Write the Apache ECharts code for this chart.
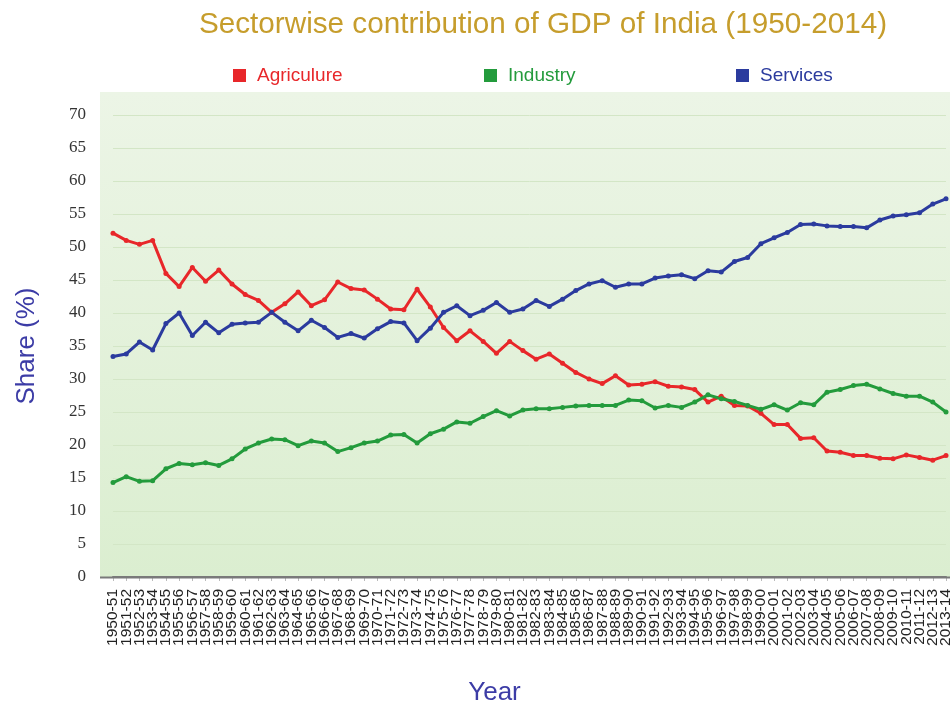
<!DOCTYPE html>
<html>
<head>
<meta charset="utf-8">
<script src="https://cdn.jsdelivr.net/npm/echarts/dist/echarts.min.js"></script>
<style>html,body{margin:0;padding:0;background:#fff;}#c{width:950px;height:706px;}</style>
</head>
<body>
<div id="c"></div>
<script>
var years = ["1950-51","1951-52","1952-53","1953-54","1954-55","1955-56","1956-57","1957-58","1958-59","1959-60",
"1960-61","1961-62","1962-63","1963-64","1964-65","1965-66","1966-67","1967-68","1968-69","1969-70",
"1970-71","1971-72","1972-73","1973-74","1974-75","1975-76","1976-77","1977-78","1978-79","1979-80",
"1980-81","1981-82","1982-83","1983-84","1984-85","1985-86","1986-87","1987-88","1988-89","1989-90",
"1990-91","1991-92","1992-93","1993-94","1994-95","1995-96","1996-97","1997-98","1998-99","1999-00",
"2000-01","2001-02","2002-03","2003-04","2004-05","2005-06","2006-07","2007-08","2008-09","2009-10",
"2010-11","2011-12","2012-13","2013-14"];

var agriculture = [52.1,51.0,50.4,51.0,46.0,44.0,46.9,44.8,46.5,44.4,
42.8,41.9,40.1,41.4,43.2,41.1,42.0,44.7,43.7,43.5,
42.1,40.6,40.5,43.6,40.9,37.8,35.8,37.3,35.7,33.9,
35.7,34.3,33.0,33.8,32.4,31.0,30.0,29.3,30.5,29.1,
29.2,29.6,28.9,28.8,28.4,26.5,27.4,26.0,25.9,24.8,
23.1,23.1,21.0,21.1,19.1,18.9,18.4,18.4,18.0,17.9,
18.5,18.1,17.7,18.4];

var industry = [14.3,15.2,14.5,14.6,16.4,17.2,17.0,17.3,16.9,17.9,
19.4,20.3,20.9,20.8,19.9,20.6,20.3,19.0,19.6,20.3,
20.6,21.5,21.6,20.3,21.7,22.4,23.5,23.3,24.3,25.2,
24.4,25.3,25.5,25.5,25.7,25.9,26.0,26.0,26.0,26.8,
26.7,25.6,26.0,25.7,26.5,27.6,27.0,26.6,26.0,25.4,
26.1,25.3,26.4,26.1,28.0,28.4,29.0,29.2,28.5,27.8,
27.4,27.4,26.5,25.0];

var services = [33.4,33.8,35.6,34.4,38.4,40.0,36.6,38.6,37.0,38.3,
38.5,38.6,40.1,38.6,37.3,38.9,37.8,36.3,36.9,36.2,
37.6,38.7,38.5,35.8,37.7,40.1,41.1,39.6,40.4,41.6,
40.1,40.6,41.9,41.0,42.1,43.4,44.4,44.9,43.9,44.4,
44.4,45.3,45.6,45.8,45.2,46.4,46.2,47.8,48.4,50.5,
51.4,52.2,53.4,53.5,53.2,53.1,53.1,52.9,54.1,54.7,
54.9,55.2,56.5,57.3];

var seriesNames = ["Agriculure","Industry","Services"];
var colors = ["#e8272a","#239b3c","#2b3b9e"];

var chart = echarts.init(document.getElementById('c'), null, {renderer:'canvas'});

function mkSeries(name, data, color){
  return {
    name: name, type: 'line', data: data,
    symbol: 'circle', symbolSize: 5, showSymbol: true,
    lineStyle: {width: 3, color: color},
    itemStyle: {color: color},
    emphasis: {disabled: true},
    animation: false
  };
}
function mkLegend(i, left){
  return {
    left: left, top: 61, orient: 'horizontal',
    itemWidth: 13, itemHeight: 13, icon: 'rect', selectedMode: false,
    data: [{name: seriesNames[i], textStyle: {color: colors[i]}}],
    textStyle: {fontSize: 19, fontFamily: 'Liberation Sans, Arial, sans-serif', padding: [0,0,0,6]}
  };
}

chart.setOption({
  animation: false,
  color: colors,
  title: {
    text: 'Sectorwise contribution of GDP of India (1950-2014)',
    left: 538, top: 5, textAlign: 'center',
    textStyle: {color: '#c69d2c', fontSize: 29.7, fontWeight: 'normal', fontFamily: 'Liberation Sans, Arial, sans-serif'}
  },
  legend: [mkLegend(0, 228), mkLegend(1, 479), mkLegend(2, 731)],
  graphic: [
    {type: 'rect', z: -10, silent: true,
     shape: {x: 100, y: 92, width: 850, height: 485},
     style: {fill: new echarts.graphic.LinearGradient(0,0,0,1,[{offset:0,color:'#ecf5e6'},{offset:1,color:'#dbeed0'}])}},
    {type: 'line', z: 10, silent: true,
     shape: {x1: 100, y1: 577.5, x2: 950, y2: 577.5},
     style: {stroke: '#7a7a7a', lineWidth: 2}}
  ],
  grid: {left: 113, right: 4, top: 115, bottom: 129, containLabel: false, outerBoundsMode: 'none'},
  xAxis: {
    type: 'category', data: years, boundaryGap: false,
    name: 'Year', nameLocation: 'middle', nameGap: 103,
    nameTextStyle: {color: '#3c3ca6', fontSize: 26, fontFamily: 'Liberation Sans, Arial, sans-serif', padding: [0,70,0,0]},
    axisLine: {show: true, lineStyle: {color: '#7a7a7a', width: 2}},
    axisTick: {show: true, length: 4, lineStyle: {color: '#bbb'}},
    axisLabel: {interval: 0, rotate: 90, fontSize: 15.5, color: '#222', margin: 12, fontFamily: 'Liberation Sans, Arial, sans-serif'},
    splitLine: {show: false}
  },
  yAxis: {
    type: 'value', min: 0, max: 70, interval: 5,
    name: 'Share (%)', nameLocation: 'middle', nameGap: 73,
    nameTextStyle: {color: '#3c3ca6', fontSize: 26, fontFamily: 'Liberation Sans, Arial, sans-serif'},
    axisLine: {show: false}, axisTick: {show: false},
    axisLabel: {fontSize: 17, color: '#333', margin: 27, fontFamily: 'Liberation Serif, Times New Roman, serif'},
    splitLine: {show: true, lineStyle: {color: '#d3e6c6', width: 1}}
  },
  series: [
    mkSeries(seriesNames[0], agriculture, colors[0]),
    mkSeries(seriesNames[1], industry, colors[1]),
    mkSeries(seriesNames[2], services, colors[2])
  ]
});
</script>
</body>
</html>
